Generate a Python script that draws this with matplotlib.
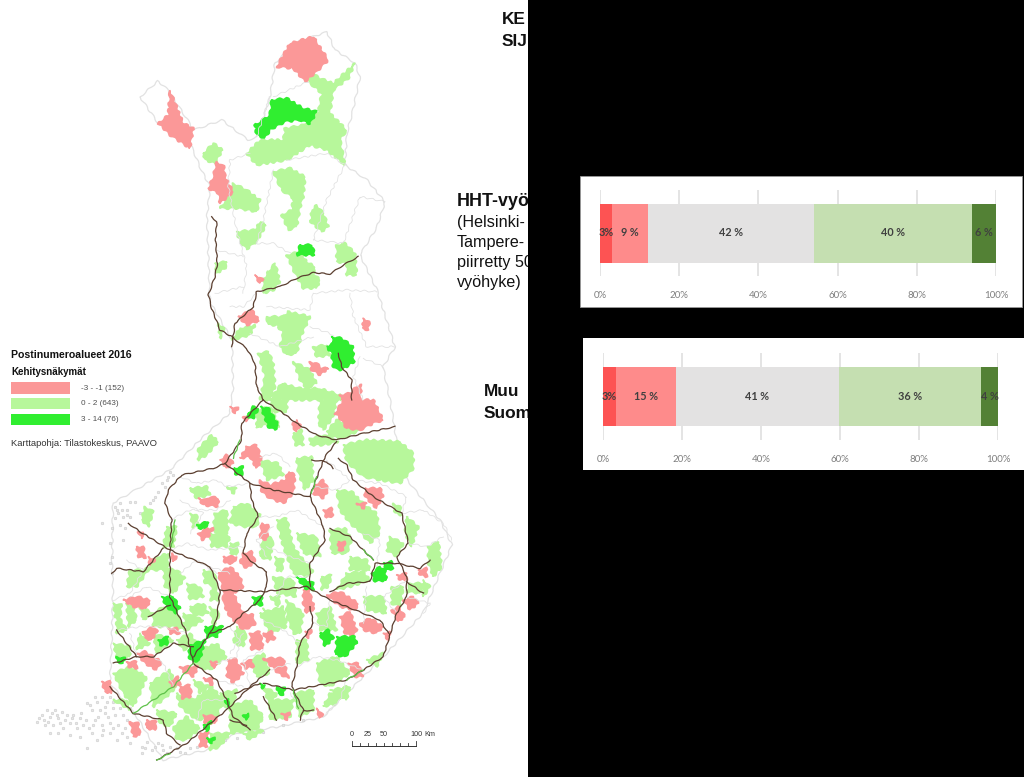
#!/usr/bin/python
# Finland postcode map with two stacked percentage bars on top of a black panel

import matplotlib
matplotlib.use('Agg')
import matplotlib.pyplot as plt
from matplotlib.patches import Polygon, Rectangle

# ----------------------------------------------
# chart data

tick_values = [0, 20, 40, 60, 80, 100]
hht_values = [3, 9, 42, 40, 6]
hht_labels = ['3%', '9 %', '42 %', '40 %', '6 %']
muu_values = [3.3, 15.2, 41.2, 36.0, 4.3]
muu_labels = ['3%', '15 %', '41 %', '36 %', '4 %']
bar_colors = ['#fd5353', '#fe8b8b', '#e3e2e2', '#c5dfb1', '#538135']

legend_labels = ['-3 - -1 (152)', '0 - 2 (643)', '3 - 14 (76)']

PINK = '#fb9898'
LIGHT = '#b7f79b'
GREEN = '#30ee30'
ROAD = '#5b3f30'
EDGE = '#e2e2e2'

# ----------------------------------------------
# map shapes. the outline is in picture pixels, north_* and south_* are in the
# 3x crops I read them from (see to_px)

outline = [(140, 97), (158, 81), (168, 90), (183, 113), (194, 130), (222, 120), (248, 140), (257, 137),
           (270, 97), (275, 63), (297, 42), (327, 32), (335, 50), (355, 63), (360, 77), (353, 110),
           (347, 133), (345, 165), (367, 180), (385, 202), (377, 227), (360, 255), (377, 290), (395, 347),
           (383, 367), (390, 400), (395, 430), (400, 470), (415, 490), (440, 520), (452, 545), (440, 573),
           (423, 613), (387, 653), (357, 683), (323, 717), (277, 727), (237, 733), (207, 750), (163, 760),
           (137, 717), (110, 683), (112, 633), (113, 587), (112, 567), (113, 503), (170, 470), (203, 437),
           (230, 413), (233, 388), (232, 340), (210, 302), (207, 217), (210, 187), (200, 167), (190, 143),
           (158, 123)]

north_edges = [
    [(520, 290), (625, 245)], [(470, 410), (510, 290)],
    [(450, 460), (390, 480), (385, 560), (410, 690), (440, 800), (430, 880)],
    [(735, 495), (680, 600), (640, 720)], [(855, 605), (780, 590), (730, 730), (640, 720)],
    [(520, 510), (490, 660), (470, 730), (520, 730), (570, 760)], [(350, 750), (430, 770)],
    [(345, 880), (430, 860)], [(470, 880), (430, 920), (390, 920)], [(640, 880), (740, 870), (830, 875)],
    [(750, 880), (760, 950), (800, 1040), (885, 1040)], [(640, 880), (630, 930), (500, 920)],
    [(790, 1075), (850, 1100)], [(630, 980), (690, 1000), (700, 1010)], [(560, 480), (680, 460), (735, 495)],
    [(450, 1000), (540, 1040), (640, 1010)], [(780, 1070), (760, 1130), (790, 1200)],
]

south_edges = [
    [(450, 230), (500, 250), (560, 240), (590, 260), (660, 250)], [(420, 360), (480, 330), (560, 330), (600, 300)],
    [(680, 350), (740, 350), (800, 330), (880, 380)], [(420, 450), (470, 430), (540, 450), (640, 440)],
    [(290, 480), (340, 510), (300, 580), (250, 600)], [(540, 500), (600, 520)], [(710, 440), (780, 470), (840, 490)],
    [(890, 180), (960, 240), (920, 270), (850, 260)], [(1115, 340), (1180, 330), (1240, 370), (1265, 420)],
    [(1135, 430), (1190, 440), (1240, 410)], [(1040, 500), (1050, 420), (1000, 400)], [(900, 600), (890, 680), (850, 670)],
    [(1000, 670), (1010, 560)], [(600, 680), (630, 720), (620, 770), (560, 790)], [(700, 660), (760, 690), (810, 730)],
    [(420, 590), (350, 560), (300, 590)], [(470, 700), (400, 680), (330, 680), (260, 690)], [(320, 770), (300, 700)],
    [(800, 800), (860, 770), (920, 780), (1000, 810)], [(660, 860), (640, 780), (700, 750)],
    [(430, 860), (400, 790), (370, 770)], [(560, 840), (640, 860)], [(1100, 640), (1060, 590), (1130, 540)],
    [(1130, 590), (1200, 610), (1180, 640)], [(500, 960), (520, 900), (590, 900)], [(820, 930), (780, 880)],
    [(950, 840), (930, 900), (880, 950)], [(720, 810), (780, 790)], [(970, 240), (1050, 250), (1130, 290), (1115, 340)],
    [(450, 300), (520, 340), (480, 400)], [(730, 380), (680, 420), (710, 470)], [(780, 200), (740, 160), (690, 170)],
    [(560, 520), (500, 480), (450, 520)], [(740, 590), (770, 530), (840, 530)], [(640, 700), (600, 760)],
]

north_pink = [
    [(530, 200), (570, 130), (640, 110), (685, 180), (650, 215), (615, 245), (580, 205)],
    [(210, 272), (250, 370), (280, 385), (270, 445), (210, 405), (175, 370), (205, 345)],
    [(350, 485), (372, 500), (375, 530), (400, 575), (360, 610), (355, 580), (325, 565), (340, 530)],
    [(465, 825), (490, 840), (480, 850)], [(415, 950), (455, 930), (478, 962), (440, 975)],
    [(790, 955), (808, 965), (805, 990), (788, 985)],
    [(630, 1085), (650, 1090), (665, 1105), (685, 1105), (660, 1125), (635, 1110)],
    [(720, 1185), (750, 1180), (770, 1160), (785, 1155), (780, 1200), (725, 1200)],
]

north_light = [
    [(630, 215), (660, 235), (700, 250), (765, 190), (745, 235), (700, 270), (690, 340), (740, 390), (720, 420),
     (735, 495), (680, 450), (630, 435), (560, 480), (470, 495), (440, 460), (480, 420), (550, 420), (555, 385),
     (610, 375), (655, 335), (665, 280), (625, 245)],
    [(310, 460), (340, 430), (368, 450), (345, 490), (315, 480)],
    [(400, 550), (440, 570), (480, 600), (470, 635), (410, 625), (360, 625), (385, 590)],
    [(520, 515), (570, 505), (615, 530), (610, 590), (600, 625), (590, 680), (565, 690), (545, 645), (575, 630),
     (580, 595), (545, 570)],
    [(650, 615), (670, 640), (685, 680), (665, 695), (632, 665), (635, 630)],
    [(410, 695), (465, 690), (480, 665), (498, 675), (470, 725), (440, 748), (420, 725)],
    [(710, 735), (735, 730), (765, 760), (770, 825), (740, 825), (740, 790), (710, 785)],
    [(560, 765), (600, 755), (620, 785), (645, 800), (640, 820), (660, 840), (650, 865), (610, 865), (585, 820)],
    [(505, 815), (525, 790), (540, 845), (520, 870), (490, 880), (490, 840)],
    [(345, 790), (380, 785), (375, 805), (350, 820)],
    [(500, 950), (550, 950), (565, 935), (630, 950), (605, 1005), (590, 1060), (560, 1065), (540, 1040), (550, 1000),
     (530, 975), (505, 975)],
    [(420, 985), (465, 975), (450, 1005), (415, 1015), (395, 1020)],
    [(640, 1040), (680, 1035), (690, 1065), (650, 1072)],
    [(475, 1060), (505, 1055), (520, 1090), (525, 1160), (510, 1200), (480, 1200), (495, 1130)],
    [(580, 1085), (630, 1110), (650, 1150), (620, 1165), (600, 1140)],
    [(510, 1200), (545, 1150), (600, 1165), (660, 1165), (720, 1185), (725, 1200)],
    [(355, 970), (372, 985), (360, 1015)],
]

north_green = [
    [(515, 300), (560, 295), (610, 325), (650, 335), (630, 372), (600, 360), (555, 365), (510, 390), (495, 415),
     (470, 405), (465, 375), (510, 345)],
    [(600, 735), (635, 735), (645, 765), (592, 765)],
    [(695, 1010), (725, 1015), (758, 1040), (762, 1085), (725, 1110), (700, 1105), (695, 1060), (680, 1040), (700, 1030)],
]

south_light = [
    [(720, 0), (770, 0), (770, 35), (735, 35)], [(870, 0), (920, 0), (910, 50), (880, 90), (865, 70)],
    [(890, 95), (920, 60), (990, 90), (940, 115), (900, 110)], [(790, 100), (815, 90), (820, 135), (795, 135)],
    [(840, 115), (880, 105), (925, 125), (880, 135), (840, 135)], [(680, 30), (720, 20), (750, 80), (700, 75), (680, 85)],
    [(505, 145), (545, 105), (565, 125), (530, 165), (505, 180)],
    [(940, 135), (1010, 120), (1110, 125), (1150, 160), (1150, 205), (1110, 250), (1050, 240), (1000, 230), (950, 185)],
    [(690, 180), (745, 190), (760, 225), (710, 240)], [(800, 175), (845, 170), (850, 240), (825, 270), (805, 220)],
    [(480, 265), (530, 260), (540, 285), (500, 295)], [(590, 260), (620, 265), (610, 280)],
    [(345, 320), (370, 335), (355, 380), (335, 360)],
    [(920, 270), (965, 275), (1010, 320), (1040, 340), (1050, 400), (1020, 430), (990, 395), (960, 370), (930, 330)],
    [(1090, 310), (1110, 320), (1115, 345), (1095, 340)], [(1130, 350), (1165, 380), (1145, 440), (1125, 400)],
    [(1195, 440), (1225, 425), (1235, 500), (1210, 530), (1195, 490)],
    [(610, 320), (650, 310), (690, 345), (680, 380), (640, 380), (600, 370)],
    [(555, 340), (590, 330), (595, 400), (565, 415), (550, 380)], [(480, 340), (500, 345), (505, 375), (490, 385)],
    [(600, 430), (625, 430), (620, 465), (600, 460)],
    [(740, 360), (770, 355), (790, 440), (820, 480), (850, 510), (835, 530), (790, 520), (760, 440)],
    [(900, 390), (945, 385), (965, 420), (950, 460), (905, 460)],
    [(300, 510), (345, 510), (385, 470), (415, 460), (415, 510), (355, 510), (320, 560), (290, 560)],
    [(470, 550), (510, 560), (520, 590), (480, 600)], [(480, 620), (520, 610), (535, 640), (490, 650)],
    [(250, 610), (275, 615), (270, 650), (255, 650)], [(290, 610), (310, 620), (320, 660), (295, 680)],
    [(400, 505), (440, 510), (465, 535), (430, 580), (405, 560)], [(770, 600), (820, 640), (810, 700), (790, 700), (770, 650)],
    [(1085, 560), (1120, 560), (1110, 620), (1085, 610)], [(1140, 550), (1185, 550), (1170, 580), (1130, 575)],
    [(950, 520), (1000, 515), (1020, 540), (960, 560), (920, 570)], [(875, 530), (905, 525), (895, 560), (875, 570)],
    [(735, 470), (760, 480), (755, 515), (740, 510)], [(720, 590), (750, 590), (745, 620)],
    [(700, 625), (720, 640), (735, 680), (710, 670)],
    [(250, 820), (300, 800), (350, 830), (330, 880), (310, 920), (280, 880)],
    [(250, 730), (300, 740), (300, 770), (260, 770)], [(430, 980), (470, 950), (510, 985), (470, 1020), (440, 1020)],
    [(440, 880), (490, 900), (545, 860), (580, 900), (560, 950), (500, 960), (450, 920)],
    [(360, 850), (420, 810), (440, 860), (400, 900), (370, 920)], [(800, 720), (830, 720), (835, 780), (800, 790)],
    [(860, 790), (920, 770), (960, 820), (900, 860), (870, 850)],
    [(600, 920), (660, 900), (700, 950), (680, 990), (600, 1000)], [(790, 880), (850, 870), (850, 930), (810, 950)],
    [(480, 760), (560, 730), (590, 770), (540, 810), (500, 800)], [(370, 640), (400, 620), (440, 640), (470, 690), (430, 680), (370, 680)],
    [(700, 860), (740, 880), (720, 920)], [(540, 1000), (600, 1000), (570, 1040), (540, 1050)],
    [(620, 680), (650, 700), (640, 740), (610, 730)], [(540, 400), (600, 410), (590, 440), (545, 440)],
    [(440, 720), (480, 700), (500, 730), (460, 750)], [(660, 780), (700, 760), (720, 820), (680, 830)],
    [(490, 840), (540, 860), (510, 880)], [(900, 870), (960, 860), (950, 900)], [(1010, 780), (1060, 760), (1040, 800)],
    [(250, 900), (290, 900), (300, 930)], [(700, 400), (730, 420), (720, 480), (690, 470)], [(370, 700), (430, 720), (380, 760)],
    [(960, 470), (1010, 480), (1020, 510), (960, 510)],
    [(260, 640), (290, 690), (260, 700)], [(330, 620), (370, 640), (340, 660)], [(460, 640), (520, 660), (470, 690)],
    [(540, 620), (570, 640), (550, 680)], [(520, 510), (555, 520), (560, 560), (525, 550)],
    [(730, 530), (790, 540), (800, 590), (740, 580)], [(690, 640), (760, 620), (770, 680), (720, 700)],
    [(860, 640), (900, 620), (920, 690), (870, 690)], [(1000, 590), (1060, 590), (1070, 640), (1010, 630)],
    [(1080, 410), (1120, 430), (1100, 470), (1070, 450)], [(800, 400), (860, 410), (870, 470), (820, 460)],
    [(550, 540), (570, 600), (540, 600)], [(410, 380), (440, 380), (430, 440), (400, 440)], [(330, 700), (360, 730), (320, 750)],
    [(570, 880), (620, 870), (610, 920), (570, 920)], [(720, 900), (790, 900), (780, 950), (720, 960)],
    [(380, 930), (440, 940), (420, 980), (390, 970)], [(640, 1000), (700, 990), (660, 1020)],
    [(900, 880), (950, 860), (920, 910), (880, 920)], [(1180, 540), (1200, 560), (1180, 590)],
]

south_pink = [
    [(915, 40), (940, 0), (1030, 0), (1060, 60), (1030, 70), (990, 90), (950, 85), (930, 55)],
    [(800, 60), (812, 75), (800, 95), (785, 75)], [(600, 20), (625, 25), (615, 40)], [(640, 50), (655, 45), (650, 65)],
    [(570, 180), (590, 165), (610, 190), (590, 205)], [(650, 140), (680, 135), (695, 180), (680, 205), (660, 170), (630, 175)],
    [(690, 240), (720, 255), (765, 240), (775, 215), (795, 225), (790, 280), (760, 310), (720, 295), (695, 275)],
    [(855, 255), (880, 240), (895, 270), (880, 295), (850, 280)], [(880, 330), (905, 325), (910, 345), (890, 355)],
    [(1005, 265), (1050, 265), (1060, 285), (1040, 325), (1005, 290)], [(980, 310), (1010, 310), (1000, 325)],
    [(505, 295), (530, 300), (540, 290), (565, 295), (565, 320), (520, 315)], [(695, 370), (715, 375), (710, 420), (690, 415)],
    [(505, 400), (530, 385), (550, 385), (535, 410), (515, 420)], [(325, 395), (340, 395), (335, 415)],
    [(320, 440), (340, 440), (345, 475), (325, 470)], [(355, 470), (375, 480), (360, 495)], [(425, 460), (440, 470), (430, 485)],
    [(580, 470), (620, 470), (610, 490), (585, 490)], [(640, 460), (665, 455), (675, 485), (650, 505), (630, 490)],
    [(925, 425), (945, 425), (940, 450), (925, 450)],
    [(565, 520), (600, 500), (630, 530), (640, 560), (610, 580), (640, 640), (670, 645), (675, 675), (640, 690), (600, 650),
     (580, 610), (580, 570)],
    [(280, 600), (320, 590), (360, 600), (350, 625), (310, 620)], [(340, 695), (370, 680), (382, 695), (365, 720), (345, 715)],
    [(415, 685), (440, 685), (450, 700), (420, 700)], [(660, 700), (690, 695), (700, 745), (665, 750)],
    [(700, 700), (725, 695), (735, 715), (712, 725)], [(820, 570), (835, 560), (845, 600), (855, 625), (830, 640), (820, 610)],
    [(890, 585), (930, 575), (985, 610), (975, 630), (930, 620)], [(930, 650), (960, 635), (980, 690), (970, 710), (945, 700)],
    [(990, 670), (1020, 655), (1060, 680), (1040, 700), (1000, 690)], [(1060, 700), (1080, 695), (1075, 720)],
    [(1085, 630), (1105, 620), (1125, 650), (1105, 665)], [(1120, 600), (1150, 590), (1165, 610), (1140, 630)],
    [(1100, 525), (1130, 520), (1130, 540), (1110, 540)], [(1165, 510), (1190, 505), (1190, 530), (1170, 525)],
    [(825, 695), (845, 690), (835, 715)], [(320, 760), (345, 755), (395, 785), (380, 810), (345, 790)],
    [(290, 785), (320, 785), (320, 805), (295, 800)], [(700, 775), (730, 775), (760, 775), (775, 835), (745, 820)],
    [(595, 780), (615, 775), (640, 820), (610, 850), (590, 825)], [(635, 790), (665, 780), (670, 800), (645, 805)],
    [(450, 800), (480, 800), (505, 800), (490, 830), (460, 815)], [(420, 845), (445, 830), (450, 855), (425, 860)],
    [(450, 860), (480, 855), (485, 890), (455, 895)], [(520, 835), (550, 835), (545, 855)], [(540, 785), (560, 785), (555, 805)],
    [(955, 790), (985, 790), (998, 830), (975, 830)], [(215, 845), (240, 845), (245, 880), (225, 875)],
    [(300, 965), (325, 970), (330, 1005), (310, 1010)], [(350, 960), (380, 965), (375, 990), (350, 985)],
    [(520, 945), (560, 950), (555, 970), (525, 970)], [(510, 1000), (535, 995), (530, 1040), (510, 1040)],
    [(755, 940), (780, 940), (770, 960)], [(860, 925), (878, 945), (870, 955)],
]

south_green = [
    [(655, 40), (670, 20), (685, 25), (670, 55), (655, 55)], [(692, 20), (715, 25), (745, 75), (735, 90), (715, 80)],
    [(612, 205), (640, 200), (635, 225), (618, 225)], [(500, 375), (535, 365), (525, 385), (505, 385)],
    [(395, 590), (430, 590), (450, 625), (435, 640), (410, 620)], [(385, 720), (415, 710), (410, 735), (390, 735)],
    [(525, 680), (580, 680), (560, 710), (530, 710)], [(480, 735), (525, 720), (510, 780), (490, 785), (475, 770)],
    [(668, 590), (695, 590), (695, 615), (675, 615)], [(800, 530), (850, 550), (850, 570), (825, 565)],
    [(1025, 520), (1050, 500), (1065, 510), (1070, 540), (1035, 545)], [(1060, 490), (1085, 485), (1090, 505), (1070, 510)],
    [(870, 700), (895, 690), (910, 715), (885, 740)], [(920, 710), (975, 710), (980, 730), (945, 770), (917, 765)],
    [(260, 770), (285, 775), (280, 790), (262, 785)], [(740, 860), (765, 865), (760, 885), (745, 880)],
    [(690, 850), (705, 855), (695, 865)], [(585, 900), (595, 895), (595, 920)], [(530, 1015), (555, 1015), (545, 1030)],
    [(520, 975), (545, 965), (530, 995)], [(640, 945), (655, 940), (650, 960)],
]

north_roads = [
    [(335, 650), (350, 665), (347, 720), (352, 790), (345, 830), (325, 885), (335, 925), (360, 990), (395, 1010), (440, 1045),
     (465, 1090), (470, 1160), (490, 1200)],
    [(395, 1040), (405, 970), (460, 920), (470, 875), (540, 860), (590, 835), (640, 818), (690, 822), (730, 795), (775, 770)],
    [(715, 1060), (725, 1100), (755, 1140), (755, 1200)],
]

south_roads = [
    [(700, 0), (760, 40), (800, 70), (860, 105), (920, 120), (1000, 100), (1095, 80)],
    [(700, 0), (680, 20), (635, 70), (635, 120), (585, 190), (550, 205), (455, 225), (415, 270), (405, 310), (425, 360),
     (420, 450), (420, 590), (470, 700), (490, 790)],
    [(585, 190), (660, 250), (665, 300), (685, 350), (650, 400), (640, 460), (670, 490), (710, 515), (710, 560), (690, 600),
     (640, 640), (600, 680), (540, 700), (490, 770)],
    [(660, 250), (730, 270), (840, 290), (880, 380), (885, 420), (840, 490), (840, 560)],
    [(920, 125), (885, 170), (850, 260), (840, 290)], [(845, 180), (890, 185), (910, 205)],
    [(925, 175), (950, 195), (970, 240), (1030, 290), (1115, 340), (1135, 430), (1100, 470), (1130, 530), (1130, 590),
     (1100, 640), (1075, 720), (1060, 770), (1000, 810), (950, 840), (790, 870), (700, 850)],
    [(295, 370), (330, 395), (420, 450), (540, 500), (570, 570), (560, 660), (540, 700)],
    [(245, 520), (260, 505), (340, 515), (400, 445)], [(570, 570), (700, 575), (830, 560), (900, 600), (1050, 660), (1075, 700)],
    [(900, 575), (950, 550), (1020, 545), (1035, 490), (1100, 490), (1170, 505), (1200, 480)],
    [(900, 385), (960, 410), (1030, 480)], [(355, 650), (420, 615)], [(1130, 545), (1180, 580)],
    [(840, 620), (850, 670), (810, 730), (800, 800), (785, 860), (820, 930), (810, 960)],
    [(260, 690), (320, 770), (250, 790)], [(320, 770), (370, 770), (430, 730), (490, 740)],
    [(490, 790), (560, 840), (590, 900), (610, 950), (660, 990)], [(240, 860), (310, 940), (400, 960), (410, 1000), (450, 1035)],
    [(380, 1080), (470, 1030), (540, 970), (590, 930), (660, 860), (720, 810)], [(700, 890), (740, 960)], [(615, 880), (690, 850)],
    [(820, 930), (850, 930)], [(600, 960), (650, 975)],
]

south_green_roads = [
    [(490, 790), (430, 860), (310, 940)], [(790, 870), (805, 925)], [(1000, 810), (950, 840)], [(860, 230), (845, 280)],
    [(435, 360), (425, 440)], [(630, 120), (610, 175)], [(1030, 480), (1000, 450)], [(380, 1080), (420, 1060)],
]

archipelago = [
    (20, 965), (35, 945), (50, 930), (60, 950), (45, 975), (70, 975), (85, 955), (75, 930), (95, 935), (105, 960), (100, 985),
    (120, 970), (130, 945), (150, 955), (140, 985), (160, 975), (60, 1000), (85, 1000), (120, 1005), (150, 1010), (170, 1045),
    (170, 910), (185, 930), (200, 905), (215, 890), (225, 920), (205, 950), (190, 975), (215, 975), (235, 950), (250, 925),
    (240, 890), (265, 905), (280, 945), (265, 975), (240, 1000), (215, 1005), (285, 985), (200, 1020), (185, 1000),
    (335, 1040), (350, 1025), (365, 1050), (385, 1030), (400, 1050), (420, 1040), (335, 1060), (450, 1055), (480, 1045), (500, 1040),
    (255, 320), (270, 310), (265, 340), (280, 350), (255, 355), (290, 330), (315, 305), (270, 375), (285, 385), (245, 385),
    (240, 430), (245, 470), (240, 490), (280, 420), (215, 370), (245, 520), (410, 240), (420, 215), (430, 225), (405, 260),
    (375, 290), (360, 310), (385, 275), (300, 350), (330, 340),
    (540, 1045), (585, 1020), (620, 1015), (660, 1005), (700, 995), (760, 975), (820, 960), (290, 1010), (300, 1030), (260, 1020),
    (28, 955), (42, 960), (55, 965), (65, 938), (80, 945), (90, 968), (110, 945), (125, 955), (138, 968), (152, 940), (168, 960),
    (178, 985), (195, 960), (210, 930), (225, 940), (240, 970), (255, 945), (270, 925), (290, 960), (300, 925), (230, 905),
    (180, 915), (195, 890), (250, 905), (220, 990), (250, 985), (275, 1000), (345, 1045), (375, 1040), (395, 1035), (410, 1060),
    (440, 1045), (465, 1060), (260, 330), (275, 330), (290, 345), (415, 230), (395, 250), (370, 300), (300, 305),
]

scale_ticks_km = [0, 12.5, 25, 37.5, 50, 62.5, 75, 87.5, 100]
scale_labels_km = [0, 25, 50, 100]


def to_px(points, crop_x, crop_y):
    return [(crop_x + x / 3., crop_y + y / 3.) for x, y in points]


def draw_stacked(ax, values, labels):
    left = 0
    for val, lab, col in zip(values, labels, bar_colors):
        ax.barh(0, val, left=left, height=59 / 86., color=col, zorder=3)
        ax.text(left + val / 2., 0, lab, ha='center', va='center', fontsize=7.8, fontweight='bold',
                family='Lato', color='#404040', zorder=4)
        left += val
    ax.set_xlim(0, 100)
    ax.set_ylim(-0.5, 0.5)
    ax.set_xticks(tick_values)
    ax.set_xticklabels(['%d%%' % t for t in tick_values], family='Lato', fontsize=7, color='#7f7f7f')
    ax.set_yticks([])
    ax.tick_params(axis='x', length=0, pad=11)
    ax.grid(axis='x', color='#dcdcdc', linewidth=1.1, zorder=0)
    ax.set_axisbelow(True)
    for s in ax.spines.values():
        s.set_visible(False)
    ax.patch.set_visible(False)


# ----------------------------------------------

fig = plt.figure(figsize=(10.24, 7.77), dpi=100, facecolor='white')
W, H = 1024., 777.

base = fig.add_axes([0, 0, 1, 1])
base.set_xlim(0, W)
base.set_ylim(H, 0)
base.axis('off')

# map
land = Polygon(outline, closed=True, facecolor='white', edgecolor=EDGE, linewidth=0.9, zorder=1)
land.set_sketch_params(0.8, 14, 2)
base.add_patch(land)
xs = [p[0] for p in to_px(archipelago, 30, 400)]
ys = [p[1] for p in to_px(archipelago, 30, 400)]
base.scatter(xs, ys, s=3.5, facecolor='#e6e6e6', edgecolor='#cccccc', linewidth=0.4, zorder=1)

for shapes, cx, cy, col in [(north_light, 100, 0, LIGHT), (south_light, 30, 400, LIGHT),
                            (north_pink, 100, 0, PINK), (south_pink, 30, 400, PINK),
                            (north_green, 100, 0, GREEN), (south_green, 30, 400, GREEN)]:
    for shape in shapes:
        blob = Polygon(to_px(shape, cx, cy), closed=True, facecolor=col, edgecolor=col,
                       linewidth=1.2, joinstyle='round', zorder=2)
        blob.set_sketch_params(1.0, 9, 2)
        base.add_patch(blob)

for lines, cx, cy in [(north_edges, 100, 0), (south_edges, 30, 400)]:
    for line in lines:
        pts = to_px(line, cx, cy)
        edge, = base.plot([p[0] for p in pts], [p[1] for p in pts], color=EDGE, linewidth=0.6, zorder=3)
        edge.set_sketch_params(0.8, 10, 2)

for lines, cx, cy, col in [(north_roads, 100, 0, ROAD), (south_roads, 30, 400, ROAD),
                           (south_green_roads, 30, 400, '#5fc24a')]:
    for line in lines:
        pts = to_px(line, cx, cy)
        road, = base.plot([p[0] for p in pts], [p[1] for p in pts], color=col, linewidth=0.9, zorder=4)
        road.set_sketch_params(0.5, 12, 2)

# legend of the map
base.text(11, 355, 'Postinumeroalueet 2016', family='Liberation Sans', fontweight='bold', fontsize=7.6,
          va='center', color='#111111', zorder=5)
base.text(11, 372, 'Kehitysnäkymät', family='Liberation Sans', fontweight='bold', fontsize=7,
          va='center', color='#111111', zorder=5)
for i, (lab, col) in enumerate(zip(legend_labels, [PINK, LIGHT, GREEN])):
    top = 382 + i * 15.8
    base.add_patch(Rectangle((11, top), 59, 11.5, facecolor=col, edgecolor='none', zorder=5))
    base.text(81, top + 6, lab, family='Liberation Sans', fontsize=5.9, va='center', color='#505050', zorder=5)
base.text(11, 444, 'Karttapohja: Tilastokeskus, PAAVO', family='Liberation Sans', fontsize=6.75,
          va='center', color='#333333', zorder=5)

# scale bar
km = 64 / 100.
for t in scale_ticks_km:
    base.plot([352 + t * km] * 2, [746, 741 if t in (0, 100) else 743], color='#333333', linewidth=0.6, zorder=5)
base.plot([352, 416], [746, 746], color='#333333', linewidth=0.7, zorder=5)
for t in scale_labels_km:
    base.text(352 + t * km, 734, str(t), family='Liberation Sans', fontsize=5.2, ha='center', va='center',
              color='#333333', zorder=5)
base.text(424, 734, 'Km', family='Liberation Sans', fontsize=5.2, ha='left', va='center', color='#333333', zorder=5)

# text partly hidden by the black panel
for x, y, s, w, size in [(502, 20, 'KE', 'bold', 12.4), (502, 41, 'SIJ', 'bold', 12.4), (457, 202, 'HHT-vyö', 'bold', 12.9),
                         (457, 222, '(Helsinki-', 'normal', 11.6), (457, 243, 'Tampere-', 'normal', 11.6),
                         (457, 263, 'piirretty 50', 'normal', 11.6), (457, 283, 'vyöhyke)', 'normal', 11.6),
                         (484, 392, 'Muu', 'bold', 12.4), (484, 414, 'Suomi', 'bold', 12.4)]:
    base.text(x, y, s, family='Liberation Sans', fontweight=w, fontsize=size, va='center', color='#111111', zorder=5)

# black panel and the white chart boxes
base.add_patch(Rectangle((528, 0), W - 528, H, facecolor='black', edgecolor='none', zorder=6))
base.add_patch(Rectangle((580, 176), 442, 131, facecolor='white', edgecolor='#9a9a9a', linewidth=0.6, zorder=7))
base.add_patch(Rectangle((583, 338), 441, 132, facecolor='white', edgecolor='none', zorder=7))

ax1 = fig.add_axes([600 / W, 1 - 276 / H, 396 / W, 86 / H])
draw_stacked(ax1, hht_values, hht_labels)
ax2 = fig.add_axes([603 / W, 1 - 440 / H, 395 / W, 87 / H])
draw_stacked(ax2, muu_values, muu_labels)

fig.savefig('out.png', dpi=100)
